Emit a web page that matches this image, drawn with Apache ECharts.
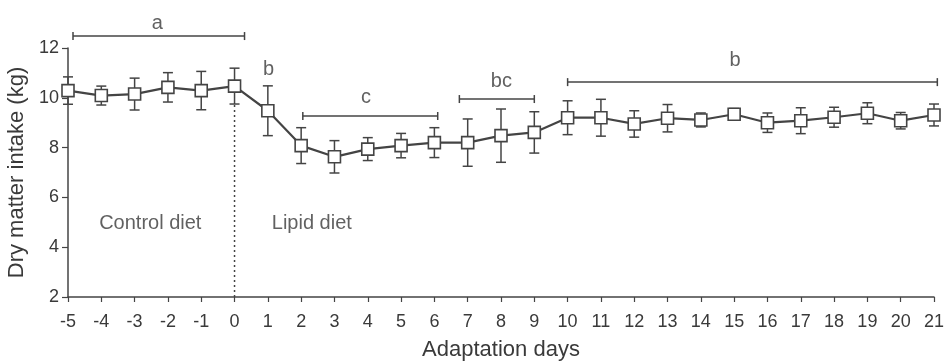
<!DOCTYPE html>
<html>
<head>
<meta charset="utf-8">
<script src="https://cdn.jsdelivr.net/npm/echarts@6/dist/echarts.min.js"></script>
<style>
  html, body { margin: 0; padding: 0; background: #fff; }
  #chart { width: 946px; height: 361px; }
</style>
</head>
<body>
<div id="chart"></div>
<script>
// days of adaptation, mean dry matter intake and its SD
var days = [-5, -4, -3, -2, -1, 0, 1, 2, 3, 4, 5, 6, 7, 8, 9, 10, 11, 12, 13, 14, 15, 16, 17, 18, 19, 20, 21]
var intake = [10.29, 10.09, 10.15, 10.42, 10.29, 10.47, 9.48, 8.08, 7.63, 7.94, 8.08, 8.2, 8.2, 8.48, 8.61, 9.2, 9.2, 8.95, 9.18, 9.11, 9.34, 9.0, 9.08, 9.22, 9.38, 9.08, 9.31]
var intakeSd = [0.55, 0.38, 0.64, 0.59, 0.77, 0.72, 1.0, 0.72, 0.65, 0.46, 0.49, 0.6, 0.95, 1.07, 0.83, 0.68, 0.74, 0.53, 0.55, 0.28, 0.23, 0.39, 0.52, 0.4, 0.42, 0.33, 0.44]

// significance brackets
var bracketStart = [-4.85, 2.05, 6.75, 10.0]
var bracketEnd = [0.3, 6.1, 9.0, 21.1]
var bracketLevel = [12.48, 9.27, 9.95, 10.63]

// letters
var letterText = ['a', 'b', 'c', 'bc', 'b']
var letterX = [-2.32, 1.02, 3.95, 8.01, 15.03]
var letterY = [13.0, 11.15, 10.03, 10.66, 11.5]

// period labels
var periodText = ['Control diet', 'Lipid diet']
var periodX = [-2.53, 2.32]
var periodY = [4.95, 4.95]

var ink = '#444'
var textInk = '#3a3a3a'
var font = 'Liberation Sans, Arial, sans-serif'

var chart = echarts.init(document.getElementById('chart'))

var meanData = days.map(function (d, i) { return [d, intake[i]] })
var errData = days.map(function (d, i) { return [d, intake[i], intakeSd[i]] })
var bracketData = bracketStart.map(function (s, i) { return [s, bracketEnd[i], bracketLevel[i]] })
var letterData = letterText.map(function (t, i) { return { value: [letterX[i], letterY[i]], name: t } })
var periodData = periodText.map(function (t, i) { return { value: [periodX[i], periodY[i]], name: t } })

chart.setOption({
  animation: false,
  grid: { left: 68, right: 12, top: 48, bottom: 64, outerBoundsMode: 'none', containLabel: false },
  xAxis: {
    type: 'value',
    min: -5,
    max: 21,
    interval: 1,
    name: 'Adaptation days',
    nameLocation: 'middle',
    nameGap: 42,
    nameTextStyle: { color: textInk, fontSize: 22, fontFamily: font },
    axisLine: { onZero: false, lineStyle: { color: ink, width: 1.5 } },
    axisTick: { lineStyle: { color: ink, width: 1.2 }, length: 5 },
    axisLabel: { color: textInk, fontSize: 18, fontFamily: font, margin: 16 },
    splitLine: { show: false }
  },
  yAxis: {
    type: 'value',
    min: 2,
    max: 12,
    interval: 2,
    name: 'Dry matter intake (kg)',
    nameLocation: 'middle',
    nameGap: 28,
    nameTextStyle: { color: textInk, fontSize: 22, fontFamily: font },
    axisLine: { show: true, onZero: false, lineStyle: { color: ink, width: 1.5 } },
    axisTick: { show: true, lineStyle: { color: ink, width: 1.2 }, length: 6 },
    axisLabel: { color: textInk, fontSize: 18, fontFamily: font, margin: 9 },
    splitLine: { show: false }
  },
  series: [
    {
      // dotted divider at day 0
      type: 'line',
      data: [[0, 2], [0, 9.75]],
      symbol: 'none',
      silent: true,
      lineStyle: { color: ink, width: 1.5, type: [2, 3] },
      z: 1
    },
    {
      type: 'custom',
      data: errData,
      z: 2,
      renderItem: function (params, api) {
        var x = api.value(0)
        var m = api.value(1)
        var s = api.value(2)
        var top = api.coord([x, m + s])
        var bot = api.coord([x, m - s])
        var w = 5
        var st = { stroke: ink, lineWidth: 1.5 }
        return {
          type: 'group',
          children: [
            { type: 'line', shape: { x1: top[0], y1: top[1], x2: bot[0], y2: bot[1] }, style: st },
            { type: 'line', shape: { x1: top[0] - w, y1: top[1], x2: top[0] + w, y2: top[1] }, style: st },
            { type: 'line', shape: { x1: bot[0] - w, y1: bot[1], x2: bot[0] + w, y2: bot[1] }, style: st }
          ]
        }
      }
    },
    {
      type: 'line',
      data: meanData,
      symbol: 'rect',
      symbolSize: 12,
      showAllSymbol: true,
      lineStyle: { color: ink, width: 2.2 },
      itemStyle: { color: '#fff', borderColor: ink, borderWidth: 1.6 },
      z: 3
    },
    {
      type: 'custom',
      data: bracketData,
      z: 2,
      clip: false,
      renderItem: function (params, api) {
        var a = api.coord([api.value(0), api.value(2)])
        var b = api.coord([api.value(1), api.value(2)])
        var h = 4
        var st = { stroke: ink, lineWidth: 1.5 }
        return {
          type: 'group',
          children: [
            { type: 'line', shape: { x1: a[0], y1: a[1], x2: b[0], y2: b[1] }, style: st },
            { type: 'line', shape: { x1: a[0], y1: a[1] - h, x2: a[0], y2: a[1] + h }, style: st },
            { type: 'line', shape: { x1: b[0], y1: b[1] - h, x2: b[0], y2: b[1] + h }, style: st }
          ]
        }
      }
    },
    {
      type: 'scatter',
      data: letterData,
      symbolSize: 0,
      silent: true,
      clip: false,
      label: {
        show: true,
        position: 'inside',
        formatter: '{b}',
        color: textInk,
        fontSize: 20,
        fontFamily: font
      }
    },
    {
      type: 'scatter',
      data: periodData,
      symbolSize: 0,
      silent: true,
      label: {
        show: true,
        position: 'inside',
        formatter: '{b}',
        color: textInk,
        fontSize: 20,
        fontFamily: font
      }
    }
  ]
})

window.addEventListener('resize', function () {
  chart.resize()
})
</script>
</body>
</html>
